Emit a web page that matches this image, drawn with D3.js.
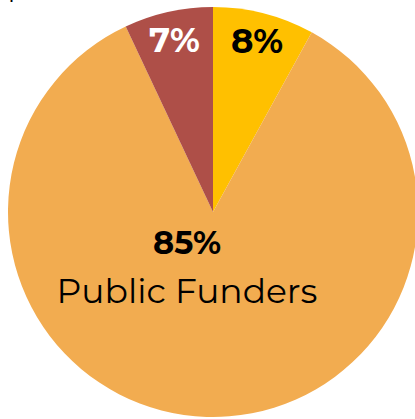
<!DOCTYPE html>
<html><head><meta charset="utf-8">
<script src="https://cdn.jsdelivr.net/npm/d3@7"></script>
<style>body{margin:0;background:#fff;} svg{display:block;}</style>
</head><body>
<svg id="chart" width="415" height="419"></svg>
<script>
const categories = ["Other A", "Public Funders", "Other B"];
const values = [8, 85, 7];
const colors = ["#FFC000", "#F2AC50", "#AE4F48"];
const labelColors = ["#000000", "#000000", "#ffffff"];
const font = "Montserrat, 'Open Sans', 'DejaVu Sans', sans-serif";

const svg = d3.select("#chart");
const cx = 213, cy = 212, R = 205;
const g = svg.append("g").attr("transform", `translate(${cx},${cy})`);

const pie = d3.pie().sort(null).value(d => d)(values);
const arc = d3.arc().innerRadius(0).outerRadius(R);
g.selectAll("path").data(pie).join("path")
  .attr("d", arc).attr("fill", (d,i) => colors[i]);

// top-left cut-off title fragment (as in the reference)
svg.append("text").attr("x", 8).attr("y", -3).attr("font-family", font)
  .attr("font-size", 26).attr("fill", "#000").text("p");

const labelArc = d3.arc().innerRadius(177).outerRadius(177);
pie.forEach((d, i) => {
  if (categories[i] === "Public Funders") {
    g.append("text").attr("x", -26).attr("y", 42).attr("text-anchor", "middle")
      .attr("font-family", font).attr("font-weight", 700).attr("font-size", 32)
      .attr("fill", labelColors[i]).text(values[i] + "%");
    g.append("text").attr("x", -26).attr("y", 91).attr("text-anchor", "middle")
      .attr("font-family", font).attr("font-size", 34.5)
      .attr("fill", labelColors[i]).text(categories[i]);
  } else {
    const [x, y] = labelArc.centroid(d);
    g.append("text").attr("x", x).attr("y", y).attr("dy", "0.36em")
      .attr("text-anchor", "middle").attr("font-family", font)
      .attr("font-weight", 700).attr("font-size", 34)
      .attr("fill", labelColors[i]).text(values[i] + "%");
  }
});
</script>
</body></html>
